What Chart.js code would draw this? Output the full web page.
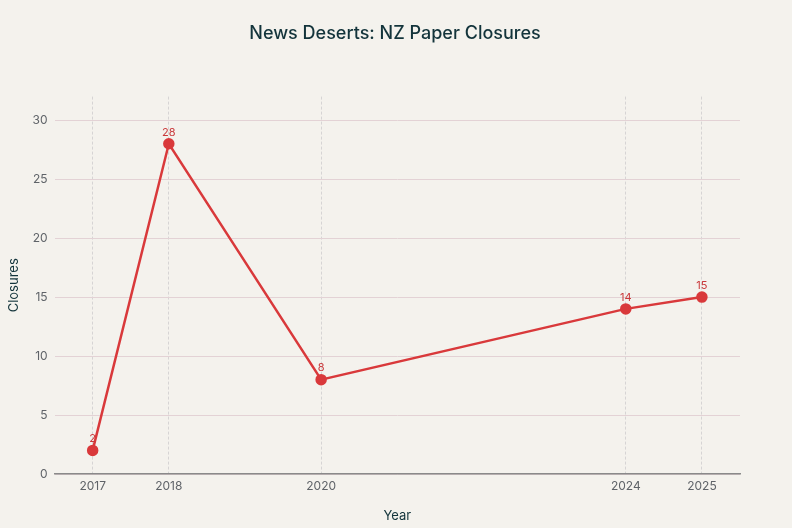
<!DOCTYPE html>
<html>
<head>
<meta charset="utf-8">
<script src="https://cdn.jsdelivr.net/npm/chart.js@4.4.1/dist/chart.umd.min.js"></script>
<style>
  html, body { margin: 0; padding: 0; background: #f4f2ed; }
  #wrap { width: 792px; height: 528px; }
</style>
</head>
<body>
<div id="wrap"><canvas id="chart"></canvas></div>
<script>
// Données
const years = [2017, 2018, 2020, 2024, 2025];
const closures = [2, 28, 8, 14, 15];
const yTicks = [0, 5, 10, 15, 20, 25, 30];

const lineColor = '#d9393b';
const fontFamily = 'Inter, "Liberation Sans", sans-serif';

// Étiquettes de valeur au-dessus des points
const valueLabels = {
    id: 'valueLabels',
    afterDatasetsDraw(chart) {
        const ctx = chart.ctx;
        const meta = chart.getDatasetMeta(0);
        ctx.save();
        ctx.fillStyle = '#c9393b';
        ctx.font = '11px ' + fontFamily;
        ctx.textAlign = 'center';
        ctx.textBaseline = 'bottom';
        meta.data.forEach((pt, i) => {
            ctx.fillText(String(closures[i]), pt.x, pt.y - 6);
        });
        ctx.restore();
    }
};

new Chart(document.getElementById('chart'), {
    type: 'line',
    data: {
        datasets: [{
            data: years.map((y, i) => ({ x: y, y: closures[i] })),
            borderColor: lineColor,
            backgroundColor: lineColor,
            borderWidth: 2.5,
            pointRadius: 4.5,
            pointHoverRadius: 4.5,
            tension: 0
        }]
    },
    plugins: [valueLabels],
    options: {
        responsive: true,
        maintainAspectRatio: false,
        animation: false,
        layout: { padding: { left: 2, right: 4, top: 10, bottom: 0 } },
        plugins: {
            legend: { display: false },
            tooltip: { enabled: false },
            title: {
                display: true,
                text: 'News Deserts: NZ Paper Closures',
                color: '#13343b',
                font: { family: fontFamily, size: 18, weight: '500' },
                padding: { top: 13, bottom: 52 }
            }
        },
        scales: {
            x: {
                type: 'linear',
                min: 2016.5,
                max: 2025.5,
                afterBuildTicks(axis) {
                    axis.ticks = years.map(v => ({ value: v }));
                },
                ticks: {
                    color: '#5f6368',
                    font: { family: fontFamily, size: 12 },
                    callback: v => String(v),
                    padding: 5
                },
                grid: { color: '#d6d4d4', drawTicks: false },
                border: { display: true, color: '#8a8a8a', width: 1.5, dash: [3, 2] },
                title: {
                    display: true,
                    text: 'Year',
                    color: '#13343b',
                    font: { family: fontFamily, size: 13 },
                    padding: { top: 10 }
                }
            },
            y: {
                min: 0,
                max: 32,
                afterBuildTicks(axis) {
                    axis.ticks = yTicks.map(v => ({ value: v }));
                },
                ticks: {
                    color: '#5f6368',
                    font: { family: fontFamily, size: 12 },
                    padding: 7
                },
                grid: { color: '#e3d2d5', drawTicks: false, lineWidth: 1 },
                border: { display: false },
                title: {
                    display: true,
                    text: 'Closures',
                    color: '#13343b',
                    font: { family: fontFamily, size: 13 },
                    padding: { bottom: 4 }
                }
            },
            // espace vide à droite pour que le titre reste centré sur la page
            yRight: {
                position: 'right',
                display: true,
                min: 0,
                max: 32,
                ticks: { display: false },
                grid: { display: false, drawOnChartArea: false },
                border: { display: false },
                afterFit(axis) { axis.width = 48; }
            }
        }
    }
});
</script>
</body>
</html>
